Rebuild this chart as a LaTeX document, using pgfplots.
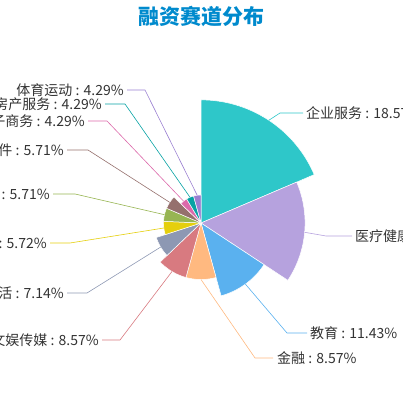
\documentclass[border=0pt]{standalone}
\usepackage{pgfplots}
\pgfplotsset{compat=1.18}
\usepackage{fontspec}
\setmainfont{Noto Sans CJK SC}
\definecolor{c1}{HTML}{2EC7C9}
\definecolor{c2}{HTML}{B6A2DE}
\definecolor{c3}{HTML}{5AB1EF}
\definecolor{c4}{HTML}{FFB980}
\definecolor{c5}{HTML}{D87A80}
\definecolor{c6}{HTML}{8D98B3}
\definecolor{c7}{HTML}{E5CF0D}
\definecolor{c8}{HTML}{97B552}
\definecolor{c9}{HTML}{95706D}
\definecolor{c10}{HTML}{DC69AA}
\definecolor{c11}{HTML}{07A2A4}
\definecolor{c12}{HTML}{9A7FD1}
\definecolor{txt}{HTML}{333333}
\definecolor{titlec}{HTML}{008ACD}
% sector: colour, start angle, end angle, value (%) ; radius = 28 + (value-4.29)*6.66
\newcommand\sector[4]{%
  \addplot[fill=#1, draw=white, line width=0.5pt, domain=#2:#3, samples=60, variable=\t]
    ({(28+(#4-4.29)*6.66)*cos(\t)},{(28+(#4-4.29)*6.66)*sin(\t)}) -- (axis cs:0,0) -- cycle;}
\newcommand\lbl{\fontsize{14}{16}\selectfont}
\begin{document}
\begin{tikzpicture}
\begin{axis}[x=1pt, y=1pt,
  xmin=-201, xmax=202, ymin=-180, ymax=223, hide axis, clip=false]
\path (axis cs:-201,-180) rectangle (axis cs:202,223);
% value shares: 18.57 15.71 11.43 8.57 8.57 7.14 5.72 5.71 5.71 4.29 4.29 4.29
\sector{c1}{23.143}{90}{18.57}
\sector{c2}{-33.429}{23.143}{15.71}
\sector{c3}{-74.571}{-33.429}{11.43}
\sector{c4}{-105.429}{-74.571}{8.57}
\sector{c5}{-136.286}{-105.429}{8.57}
\sector{c6}{-162.0}{-136.286}{7.14}
\sector{c7}{-182.571}{-162.0}{5.72}
\sector{c8}{-203.143}{-182.571}{5.71}
\sector{c9}{-223.714}{-203.143}{5.71}
\sector{c10}{-239.143}{-223.714}{4.29}
\sector{c11}{-254.571}{-239.143}{4.29}
\sector{c12}{-270}{-254.571}{4.29}
% label lines
\addplot[c1, no marks, line width=0.6pt] coordinates {(67.8,102.7) (79,110) (102,110)};
\addplot[c2, no marks, line width=0.6pt] coordinates {(103.7,-9.3) (125,-13) (151,-13)};
\addplot[c3, no marks, line width=0.6pt] coordinates {(44.4,-61.1) (86,-110) (106,-110)};
\addplot[c4, no marks, line width=0.6pt] coordinates {(0,-56.5) (54,-135) (72,-135)};
\addplot[c5, no marks, line width=0.6pt] coordinates {(-29.0,-48.5) (-81,-117) (-99,-117)};
\addplot[c6, no marks, line width=0.6pt] coordinates {(-39.9,-23.8) (-114,-70) (-134,-70)};
\addplot[c7, no marks, line width=0.6pt] coordinates {(-37.1,-5.0) (-131,-20) (-151,-20)};
\addplot[c8, no marks, line width=0.6pt] coordinates {(-36.5,8.3) (-126,29) (-148,29)};
\addplot[c9, no marks, line width=0.6pt] coordinates {(-31.2,20.6) (-113,73) (-134,73)};
\addplot[c10, no marks, line width=0.6pt] coordinates {(-17.5,21.9) (-94,102) (-113,102)};
\addplot[c11, no marks, line width=0.6pt] coordinates {(-11.0,25.7) (-76,119) (-96,119)};
\addplot[c12, no marks, line width=0.6pt] coordinates {(-3.8,27.7) (-56,133) (-74,133)};
% labels
\begin{scope}[every node/.style={font=\lbl, text=txt, inner sep=0pt, overlay}]
\node[anchor=west] at (axis cs:105,110) {企业服务 : 18.57\%};
\node[anchor=west] at (axis cs:154,-13) {医疗健康 : 15.71\%};
\node[anchor=west] at (axis cs:109,-110) {教育 : 11.43\%};
\node[anchor=west] at (axis cs:76,-135) {金融 : 8.57\%};
\node[anchor=east] at (axis cs:-102,-117) {文娱传媒 : 8.57\%};
\node[anchor=east] at (axis cs:-137,-70) {本地生活 : 7.14\%};
\node[anchor=east] at (axis cs:-154,-20) {汽车交通 : 5.72\%};
\node[anchor=east] at (axis cs:-151,29) {物流 : 5.71\%};
\node[anchor=east] at (axis cs:-137,73) {硬件 : 5.71\%};
\node[anchor=east] at (axis cs:-116,102) {电子商务 : 4.29\%};
\node[anchor=east] at (axis cs:-99,119) {房产服务 : 4.29\%};
\node[anchor=east] at (axis cs:-77,133) {体育运动 : 4.29\%};
\end{scope}
\node[font=\bfseries\fontsize{21}{24}\selectfont, text=titlec, inner sep=0pt] at (axis cs:0,207) {融资赛道分布};
\end{axis}
\end{tikzpicture}
\end{document}
